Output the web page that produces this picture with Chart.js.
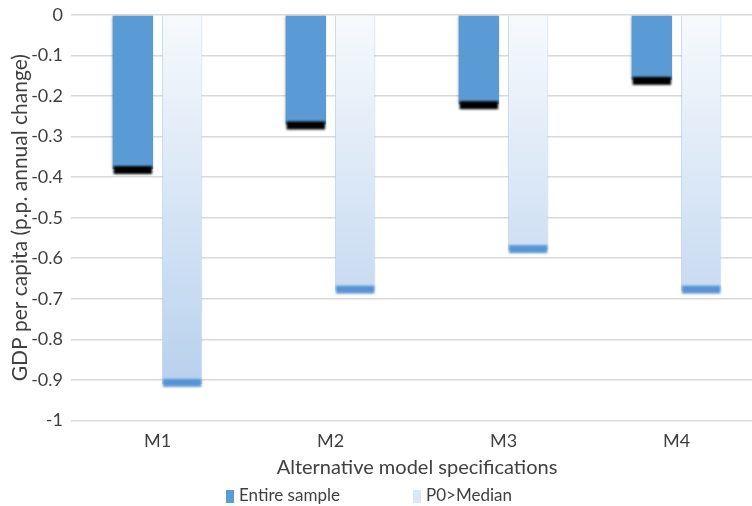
<!DOCTYPE html>
<html>
<head>
<meta charset="utf-8">
<script src="https://cdn.jsdelivr.net/npm/chart.js@4.4.1/dist/chart.umd.min.js"></script>
<style>
  html, body { margin: 0; padding: 0; background: #fff; overflow: hidden; }
  #clip { width: 752px; height: 506px; overflow: hidden; }
  /* plot area runs a little past the right edge, as in the original */
  #wrap { width: 763px; height: 506px; }
</style>
</head>
<body>
<div id="clip"><div id="wrap"><canvas id="chart"></canvas></div></div>
<script>
// chart data
const categories = ['M1', 'M2', 'M3', 'M4'];
const entireSample = [-0.38, -0.27, -0.22, -0.16];
const p0AboveMedian = [-0.91, -0.68, -0.58, -0.68];
const seriesNames = ['Entire sample', 'P0>Median'];
const yMin = -1, yMax = 0, yStep = 0.1;

const FONT = 'Lato, "Open Sans", sans-serif';
const TEXT = '#404040';

function fadeGradient(context) {
  const chart = context.chart;
  const area = chart.chartArea;
  if (!area) return '#c5d9f0';
  const g = chart.ctx.createLinearGradient(0, area.top, 0, area.bottom);
  g.addColorStop(0, '#f7fafd');
  g.addColorStop(1, '#b2cdec');
  return g;
}

// the blurred band at the end of each bar, plus the little shadow on the solid bars
const barEnds = {
  id: 'barEnds',
  beforeDatasetDraw(chart, args) {
    if (args.index === 0) {
      const ctx = chart.ctx;
      ctx.save();
      ctx.shadowColor = 'rgba(0,0,0,0.35)';
      ctx.shadowBlur = 3;
      ctx.shadowOffsetX = -1;
    }
  },
  afterDatasetDraw(chart, args) {
    const ctx = chart.ctx;
    if (args.index === 0) ctx.restore();
    const meta = args.meta;
    ctx.save();
    ctx.filter = 'blur(1px)';
    meta.data.forEach(bar => {
      const w = bar.width;
      const x = bar.x - w / 2;
      if (args.index === 0) {
        ctx.fillStyle = '#000';
        ctx.fillRect(x + 1, bar.y - 3, w - 2, 8);
      } else {
        ctx.fillStyle = 'rgba(74,140,210,0.9)';
        ctx.fillRect(x + 1, bar.y - 5, w - 2, 8);
      }
    });
    ctx.restore();
  }
};

// legend drawn below the axis title
const bottomLegend = {
  id: 'bottomLegend',
  afterDraw(chart) {
    const ctx = chart.ctx;
    const y = 496;
    const items = [
      { x: 226, color: '#5b9bd5', text: seriesNames[0] },
      { x: 413, color: '#dbe7f5', text: seriesNames[1] }
    ];
    ctx.save();
    ctx.font = '17px ' + FONT;
    ctx.textBaseline = 'middle';
    items.forEach(it => {
      ctx.fillStyle = it.color;
      ctx.fillRect(it.x, y - 6, 8, 13);
      ctx.fillStyle = TEXT;
      ctx.fillText(it.text, it.x + 13, y);
    });
    ctx.restore();
  }
};

new Chart(document.getElementById('chart'), {
  type: 'bar',
  data: {
    labels: categories,
    datasets: [{
      label: seriesNames[0],
      data: entireSample,
      backgroundColor: '#5b9bd5',
      borderWidth: 0,
      categoryPercentage: 0.57,
      barPercentage: 0.82
    }, {
      label: seriesNames[1],
      data: p0AboveMedian,
      backgroundColor: fadeGradient,
      borderColor: 'rgba(170,200,235,0.7)',
      borderWidth: { left: 1, right: 1, top: 0, bottom: 0 },
      borderSkipped: false,
      categoryPercentage: 0.57,
      barPercentage: 0.82
    }]
  },
  options: {
    responsive: true,
    maintainAspectRatio: false,
    animation: false,
    layout: { padding: { top: 15, right: 0, bottom: 22, left: 4 } },
    plugins: {
      legend: { display: false },
      tooltip: { enabled: false }
    },
    scales: {
      x: {
        grid: { display: false, drawTicks: false },
        border: { display: false },
        ticks: { color: TEXT, font: { family: FONT, size: 18 }, padding: 10 },
        title: {
          display: true,
          text: 'Alternative model specifications',
          color: TEXT,
          font: { family: FONT, size: 20 },
          padding: { top: -6, bottom: 4 }
        }
      },
      y: {
        min: yMin,
        max: yMax,
        afterFit: axis => {
          axis.width = 67;
          axis.paddingTop = 0;
          axis.paddingBottom = 0;
        },
        grid: { color: '#d9d9d9', lineWidth: 1.5, drawTicks: false },
        border: { display: false },
        ticks: {
          stepSize: yStep,
          color: TEXT,
          font: { family: FONT, size: 18 },
          padding: 8,
          callback: v => String(Math.round(v * 10) / 10)
        },
        title: {
          display: true,
          text: 'GDP per capita (p.p. annual change)',
          color: TEXT,
          font: { family: FONT, size: 21 },
          padding: { top: 4, bottom: 4 }
        }
      }
    }
  },
  plugins: [barEnds, bottomLegend]
});
</script>
</body>
</html>
